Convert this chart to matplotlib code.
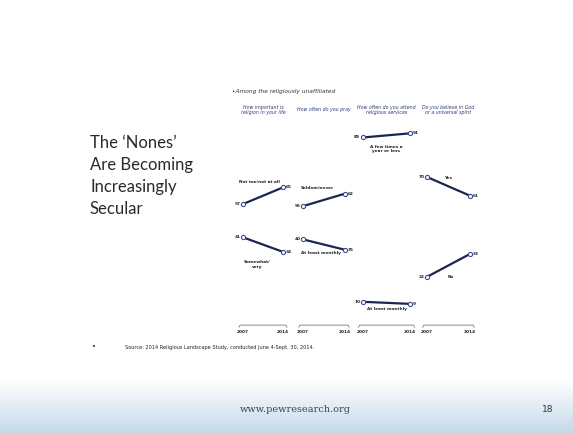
import matplotlib.pyplot as plt
import numpy as np

# slide text
slide_title = "The \u2018Nones\u2019\nAre Becoming\nIncreasingly\nSecular"
subtitle = "Among the religiously unaffiliated"
source = "Source: 2014 Religious Landscape Study, conducted June 4-Sept. 30, 2014."
site = "www.pewresearch.org"
page = "18"

# panel data
panel_titles = ["How important is\nreligion in your life",
                "How often do you pray",
                "How often do you attend\nreligious services",
                "Do you believe in God\nor a universal spirit"]
years = ["2007", "2014"]
top_labels = ["Not too/not at all", "Seldom/never", "A few times a\nyear or less", "Yes"]
top_start = [57, 56, 89, 70]
top_end = [65, 62, 91, 61]
bottom_labels = ["Somewhat/\nvery", "At least monthly", "At least monthly", "No"]
bottom_start = [41, 40, 10, 22]
bottom_end = [34, 35, 9, 33]

W, H = 573, 433
fig = plt.figure(figsize=(W / 100, H / 100), dpi=100)

# background: white slide with pale blue footer band
bg = fig.add_axes([0, 0, 1, 1], zorder=-5)
rows = np.ones((H, 1, 3))
t = np.clip((np.arange(H) - 380) / 50.0, 0, 1)[:, None]
footer = np.array([0.78, 0.86, 0.92])
rows[:, 0, :] = 1 - t * (1 - footer)
bg.imshow(rows, aspect="auto", extent=[0, 1, 0, 1])
bg.axis("off")


def fx(px):
    return px / W


def fy(py):
    return 1 - py / H


fig.text(fx(90), fy(176), slide_title, fontsize=12, family="Lato",
         color="#2a2a2a", va="center", ha="left", linespacing=1.45)

fig.text(fx(232), fy(92), "\u2022" + subtitle, fontsize=4.2, style="italic",
         color="#333333", va="center")

# panel placement (pixels)
lefts = [243, 303, 363, 427]
widths = [40, 42, 47, 43]
y0, y100 = 322.6, 114.6

line_col = "#1c2452"
mark_col = "#3c4a9c"
lab_kw = dict(fontsize=3.1, fontweight="bold", color="#222222")

top_pos = [(0.42, 67.5), (0.33, 64.5), (0.5, 83.5), (0.5, 69.5)]
bot_pos = [(0.35, 28), (0.42, 33.5), (0.5, 6.5), (0.55, 22)]

for i in range(4):
    L, w = lefts[i], widths[i]
    ax = fig.add_axes([fx(L - 0.3 * w), fy(y0), fx(1.6 * w), (y0 - y100) / H])
    ax.set_xlim(-0.3, 1.3)
    ax.set_ylim(0, 100)
    ax.axis("off")

    for s, e in [(top_start[i], top_end[i]), (bottom_start[i], bottom_end[i])]:
        ax.plot([0, 1], [s, e], color=line_col, lw=1.6, solid_capstyle="round")
        ax.plot([0, 1], [s, e], "o", ms=3, mfc="white", mec=mark_col, mew=0.8)
        ax.text(-0.06, s, str(s), ha="right", va="center", **lab_kw)
        ax.text(1.06, e, str(e), ha="left", va="center", **lab_kw)

    ax.text(*top_pos[i], top_labels[i], ha="center", va="center", linespacing=1.1, **lab_kw)
    ax.text(*bot_pos[i], bottom_labels[i], ha="center", va="center", linespacing=1.1, **lab_kw)

    # bracket and years
    ax.plot([-0.1, -0.07, 1.07, 1.1], [-2.2, -1.2, -1.2, -2.2], color="#777777",
            lw=0.6, clip_on=False)
    ax.text(0, -4.5, years[0], ha="center", va="center", clip_on=False, **lab_kw)
    ax.text(1, -4.5, years[1], ha="center", va="center", clip_on=False, **lab_kw)

    fig.text(fx(L + w / 2), fy(110), panel_titles[i], ha="center", va="center",
             fontsize=3.4, style="italic", color="#2d3a78", linespacing=1.1)

fig.text(fx(92), fy(347), "\u2022", fontsize=5, color="#222222", va="center")
fig.text(fx(125), fy(347), source, fontsize=3.6, color="#222222", va="center")

fig.text(fx(295), fy(410), site, fontsize=7, family="DejaVu Serif", color="#3a4658",
         ha="center", va="center")
fig.text(fx(548), fy(410), page, fontsize=6.5, color="#333333", ha="center", va="center")

fig.savefig("out.png", dpi=100)
